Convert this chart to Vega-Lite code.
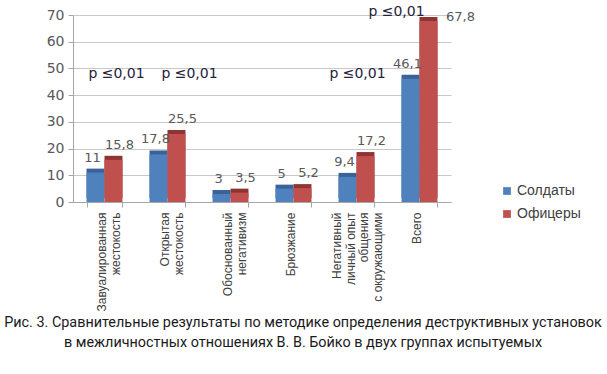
{
  "$schema": "https://vega.github.io/schema/vega-lite/v6.json",
  "width": 378,
  "height": 187,
  "autosize": {"type": "none"},
  "padding": {"left": 73, "top": 15, "right": 156, "bottom": 172},
  "background": "white",
  "config": {"view": {"stroke": null}},
  "title": {
    "text": ["Рис. 3. Сравнительные результаты по методике определения деструктивных установок", "в межличностных отношениях В. В. Бойко в двух группах испытуемых"],
    "orient": "bottom",
    "anchor": "middle",
    "dx": 41,
    "offset": 5,
    "font": "Roboto",
    "fontSize": 14.4,
    "fontWeight": "normal",
    "color": "#1a1a1a",
    "lineHeight": 20
  },
  "datasets": {
    "bars": [
      {"cat": "Завуалированная|жестокость", "series": "Солдаты", "value": 11, "label": "11"},
      {"cat": "Завуалированная|жестокость", "series": "Офицеры", "value": 15.8, "label": "15,8"},
      {"cat": "Открытая|жестокость", "series": "Солдаты", "value": 17.8, "label": "17,8"},
      {"cat": "Открытая|жестокость", "series": "Офицеры", "value": 25.5, "label": "25,5"},
      {"cat": "Обоснованный|негативизм", "series": "Солдаты", "value": 3, "label": "3"},
      {"cat": "Обоснованный|негативизм", "series": "Офицеры", "value": 3.5, "label": "3,5"},
      {"cat": "Брюзжание", "series": "Солдаты", "value": 5, "label": "5"},
      {"cat": "Брюзжание", "series": "Офицеры", "value": 5.2, "label": "5,2"},
      {"cat": "Негативный|личный опыт|общения|с окружающими", "series": "Солдаты", "value": 9.4, "label": "9,4"},
      {"cat": "Негативный|личный опыт|общения|с окружающими", "series": "Офицеры", "value": 17.2, "label": "17,2"},
      {"cat": "Всего", "series": "Солдаты", "value": 46.1, "label": "46,1"},
      {"cat": "Всего", "series": "Офицеры", "value": 67.8, "label": "67,8"}
    ],
    "notes": [
      {"cat": "Завуалированная|жестокость", "y": 48, "text": "p ≤0,01"},
      {"cat": "Открытая|жестокость", "y": 48, "text": "p ≤0,01"},
      {"cat": "Негативный|личный опыт|общения|с окружающими", "y": 48, "text": "p ≤0,01"},
      {"cat": "Всего", "y": 71, "text": "p ≤0,01"}
    ]
  },
  "data": {"name": "bars"},
  "encoding": {
    "x": {
      "field": "cat",
      "type": "nominal",
      "sort": null,
      "scale": {"paddingInner": 0.43, "paddingOuter": 0.215},
      "axis": {
        "title": null,
        "labelAngle": -90,
        "labelExpr": "split(datum.label, '|')",
        "labelFont": "Liberation Sans",
        "labelFontSize": 12,
        "labelLineHeight": 13.5,
        "labelColor": "#404040",
        "labelPadding": 5,
        "labelLimit": 200,
        "labelOffset": {"condition": {"test": "length(split(datum.value, '|')) > 2", "value": -20}, "value": -3},
        "tickBand": "extent",
        "tickSize": 5,
        "tickColor": "#A6A6A6",
        "domainColor": "#A6A6A6"
      }
    },
    "y": {
      "field": "value",
      "type": "quantitative",
      "scale": {"domain": [0, 70], "nice": false},
      "axis": {
        "title": null,
        "values": [0, 10, 20, 30, 40, 50, 60, 70],
        "labelFont": "DejaVu Sans",
        "labelFontSize": 14,
        "labelColor": "#595959",
        "labelPadding": 4,
        "tickSize": 5,
        "tickColor": "#A6A6A6",
        "domainColor": "#A6A6A6",
        "gridColor": "#C8C8C8"
      }
    }
  },
  "layer": [
    {
      "mark": {"type": "bar", "xOffset": 4, "yOffset": -4},
      "encoding": {
        "xOffset": {"field": "series", "type": "nominal", "sort": ["Солдаты", "Офицеры"], "scale": {"paddingInner": 0}},
        "color": {
          "condition": {"test": "datum.series === 'Солдаты'", "value": "#3B6296"},
          "value": "#8E3432"
        }
      }
    },
    {
      "mark": {"type": "bar"},
      "encoding": {
        "xOffset": {"field": "series", "type": "nominal", "sort": ["Солдаты", "Офицеры"], "scale": {"paddingInner": 0}},
        "color": {
          "field": "series",
          "type": "nominal",
          "scale": {"domain": ["Солдаты", "Офицеры"], "range": ["#4F81BD", "#C0504D"]},
          "legend": {
            "title": null,
            "orient": "none",
            "legendX": 427,
            "legendY": 169,
            "symbolType": "square",
            "symbolSize": 60,
            "symbolStrokeWidth": 0,
            "labelFont": "Liberation Sans",
            "labelFontSize": 14,
            "labelColor": "#404040",
            "rowPadding": 9,
            "labelOffset": 3
          }
        }
      }
    },
    {
      "transform": [{"filter": "datum.series === 'Солдаты'"}],
      "mark": {"type": "text", "baseline": "bottom", "dy": -8, "dx": -3, "font": "DejaVu Sans", "fontSize": 13, "color": "#595959"},
      "encoding": {
        "xOffset": {"field": "series", "type": "nominal", "sort": ["Солдаты", "Офицеры"], "scale": {"paddingInner": 0}},
        "text": {"field": "label"}
      }
    },
    {
      "transform": [{"filter": "datum.series === 'Офицеры' && datum.cat !== 'Всего'"}],
      "mark": {"type": "text", "baseline": "bottom", "dy": -8, "dx": 6, "font": "DejaVu Sans", "fontSize": 13, "color": "#595959"},
      "encoding": {
        "xOffset": {"field": "series", "type": "nominal", "sort": ["Солдаты", "Офицеры"], "scale": {"paddingInner": 0}},
        "text": {"field": "label"}
      }
    },
    {
      "transform": [{"filter": "datum.series === 'Офицеры' && datum.cat === 'Всего'"}],
      "mark": {"type": "text", "baseline": "bottom", "dy": 3, "dx": 32, "font": "DejaVu Sans", "fontSize": 13, "color": "#595959"},
      "encoding": {
        "xOffset": {"field": "series", "type": "nominal", "sort": ["Солдаты", "Офицеры"], "scale": {"paddingInner": 0}},
        "text": {"field": "label"}
      }
    },
    {
      "data": {"name": "notes"},
      "transform": [{"filter": "datum.cat === 'Завуалированная|жестокость'"}],
      "mark": {"type": "text", "baseline": "middle", "dx": 12, "font": "DejaVu Sans", "fontSize": 14, "color": "#24243a"},
      "encoding": {
        "x": {"field": "cat", "type": "nominal", "sort": null},
        "y": {"field": "y", "type": "quantitative"},
        "text": {"field": "text"}
      }
    },
    {
      "data": {"name": "notes"},
      "transform": [{"filter": "datum.cat === 'Открытая|жестокость'"}],
      "mark": {"type": "text", "baseline": "middle", "dx": 22, "font": "DejaVu Sans", "fontSize": 14, "color": "#24243a"},
      "encoding": {
        "x": {"field": "cat", "type": "nominal", "sort": null},
        "y": {"field": "y", "type": "quantitative"},
        "text": {"field": "text"}
      }
    },
    {
      "data": {"name": "notes"},
      "transform": [{"filter": "indexof(datum.cat, 'Негативный') === 0"}],
      "mark": {"type": "text", "baseline": "middle", "dx": 1, "font": "DejaVu Sans", "fontSize": 14, "color": "#24243a"},
      "encoding": {
        "x": {"field": "cat", "type": "nominal", "sort": null},
        "y": {"field": "y", "type": "quantitative"},
        "text": {"field": "text"}
      }
    },
    {
      "data": {"name": "notes"},
      "transform": [{"filter": "datum.cat === 'Всего'"}],
      "mark": {"type": "text", "baseline": "middle", "dx": -23, "font": "DejaVu Sans", "fontSize": 14, "color": "#24243a"},
      "encoding": {
        "x": {"field": "cat", "type": "nominal", "sort": null},
        "y": {"field": "y", "type": "quantitative"},
        "text": {"field": "text"}
      }
    }
  ]
}
